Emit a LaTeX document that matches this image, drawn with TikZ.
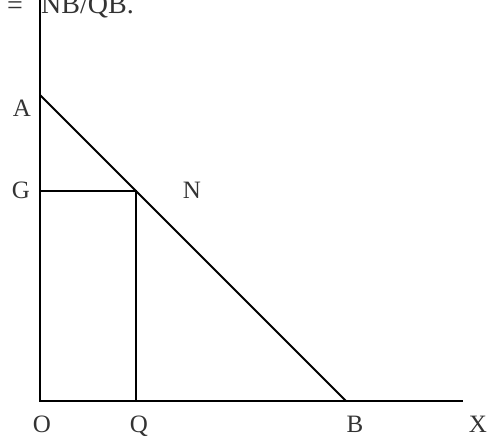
\documentclass[tikz,border=0pt]{standalone}
\usepackage{fontspec}
\setmainfont{Liberation Serif}
\begin{document}
\begin{tikzpicture}[x=1pt,y=-1pt,
  lbl/.style={font=\fontsize{25}{28}\selectfont, text=black!80, inner sep=0pt, anchor=base},
  big/.style={lbl, font=\fontsize{28}{32}\selectfont},
  ln/.style={line width=1.8pt, black}]
\useasboundingbox (0,0) rectangle (487,438);
\coordinate (O) at (40,401);
\coordinate (Ytop) at (40,0);
\coordinate (Xend) at (463,401);
\coordinate (A) at (40,95);
\coordinate (B) at (346,401);
\coordinate (G) at (40,191);
\coordinate (N) at (136,191);
\coordinate (Q) at (136,401);
\draw[ln] (Ytop) -- (O) -- (Xend);
\draw[ln] (A) -- (B);
\draw[ln] (G) -- (N) -- (Q);
\node[big] (leq) at (15,15) {=};
\node[big, anchor=base west] (ratio) at (41,14) {NB/QB.};
\node[lbl] (lA) at (22,117) {A};
\node[lbl] (lG) at (21,199) {G};
\node[lbl] (lN) at (192,199) {N};
\node[lbl] (lO) at (42,432) {O};
\node[lbl] (lQ) at (139,432) {Q};
\node[lbl] (lB) at (355,432) {B};
\node[lbl] (lX) at (478,432) {X};
\end{tikzpicture}
\end{document}
